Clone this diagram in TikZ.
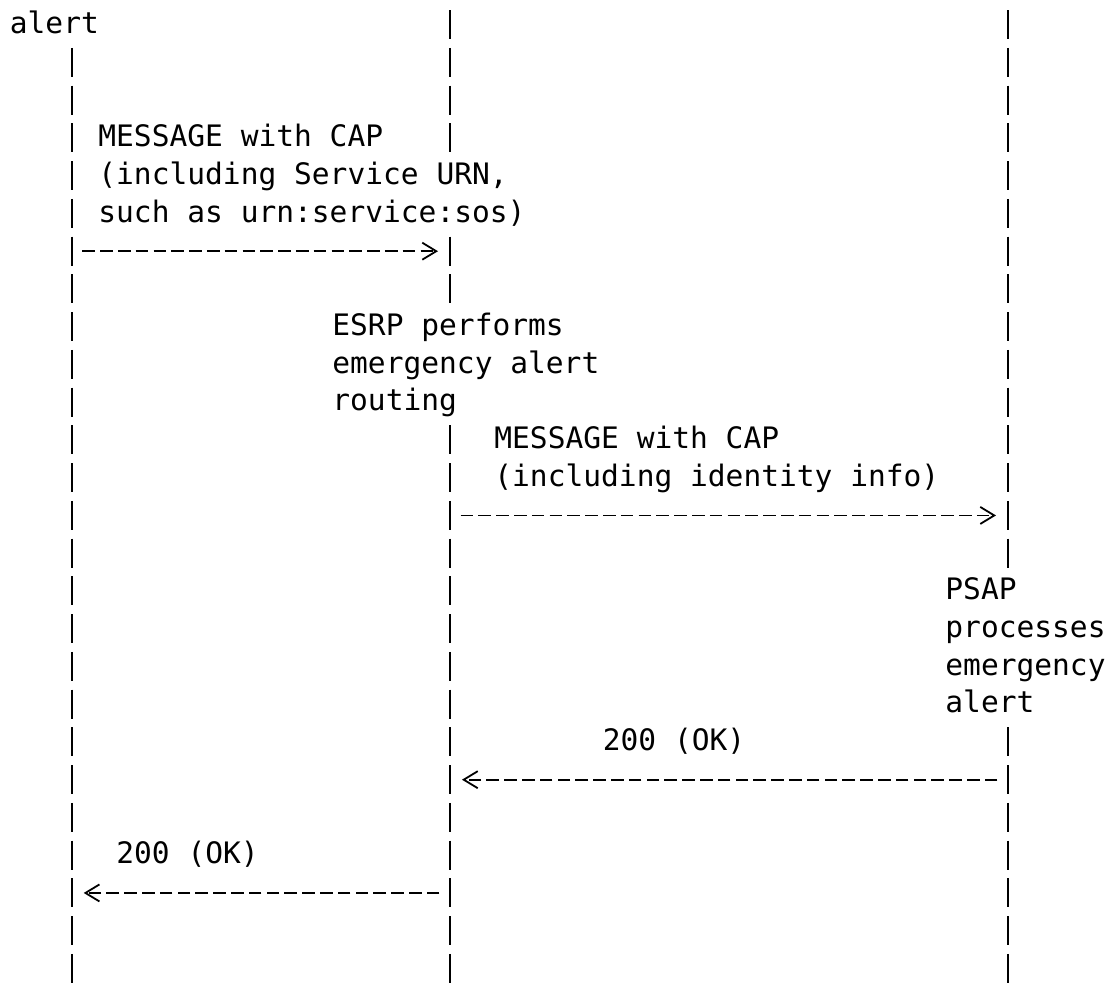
\documentclass[tikz,border=0pt]{standalone}
\usepackage{fontspec}
\setmonofont{DejaVu Sans Mono}
\usetikzlibrary{arrows.meta}

\tikzset{
  txt/.style={anchor=base west,inner sep=0pt,align=left,
    font=\ttfamily\fontsize{14.78}{18.875}\selectfont},
  life/.style={line width=1.2pt,dash pattern=on 14.5pt off 4.375pt},
  msg/.style={line width=0.9pt,dash pattern=on 6.3pt off 2.6pt,
    -{Straight Barb[length=7pt,width=8.5pt]},shorten <=5.3pt,shorten >=6pt}
}

\begin{document}
\begin{tikzpicture}[x=0.5pt,y=-18.875pt]
  \useasboundingbox (0,0) rectangle (1119,26.04);
  % lifelines: one dash per text row
  \coordinate (origA) at (71.7,1.27);    \coordinate (origB) at (71.7,26.038);
  \coordinate (esrpA) at (450,0.27);     \coordinate (esrpB) at (450,4.038);
  \coordinate (esrpC) at (450,6.27);     \coordinate (esrpD) at (450,8.038);
  \coordinate (esrpE) at (450,11.27);    \coordinate (esrpF) at (450,26.038);
  \coordinate (psapA) at (1008,0.27);    \coordinate (psapB) at (1008,15.038);
  \coordinate (psapC) at (1008,19.27);   \coordinate (psapD) at (1008,26.038);
  \draw[life] (origA) -- (origB);
  \draw[life] (esrpA) -- (esrpB);
  \draw[life] (esrpC) -- (esrpD);
  \draw[life] (esrpE) -- (esrpF);
  \draw[life] (psapA) -- (psapB);
  \draw[life] (psapC) -- (psapD);

  % texts (base = baseline of the last line)
  \node[txt] (alert) at (9.5,0.882) {alert};
  \node[txt] (msgcap) at (98,5.882) {MESSAGE with CAP\\(including Service URN,\\such as urn:service:sos)};
  \node[txt] (routing) at (332,10.882) {ESRP performs\\emergency alert\\routing};
  \node[txt] (msgid) at (494,12.882) {MESSAGE with CAP\\(including identity info)};
  \node[txt] (process) at (945,18.882) {PSAP\\processes\\emergency\\alert};
  \node[txt] (okpsap) at (602.5,19.882) {200 (OK)};
  \node[txt] (okesrp) at (116,22.882) {200 (OK)};

  % messages
  \coordinate (orig6) at (71.7,6.654);    \coordinate (esrp6) at (450,6.654);
  \coordinate (esrp13) at (450,13.654);   \coordinate (psap13) at (1008,13.654);
  \coordinate (psap20) at (1008,20.654);  \coordinate (esrp20) at (450,20.654);
  \coordinate (esrp23) at (450,23.654);   \coordinate (orig23) at (71.7,23.654);
  \draw[msg] (orig6) -- (esrp6);
  \draw[msg] (esrp13) -- (psap13);
  \draw[msg] (psap20) -- (esrp20);
  \draw[msg] (esrp23) -- (orig23);
\end{tikzpicture}
\end{document}
